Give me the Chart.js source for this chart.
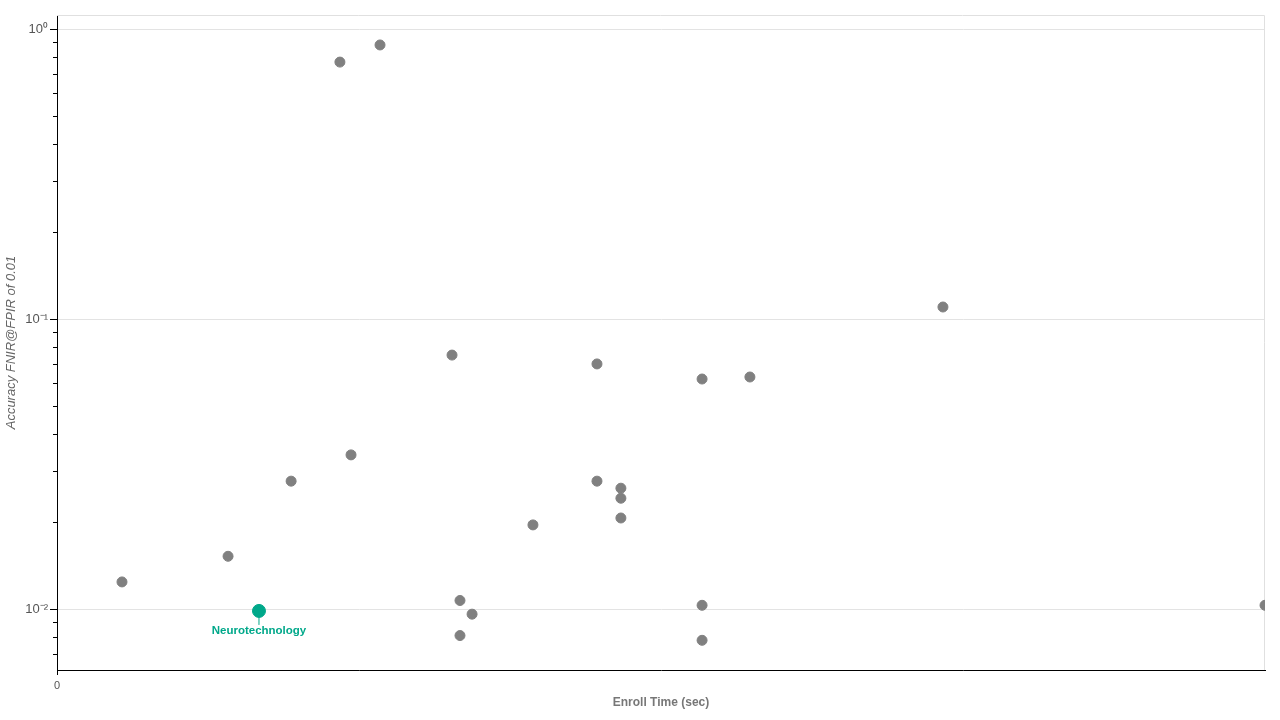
<!DOCTYPE html>
<html>
<head>
<meta charset="utf-8">
<script src="https://cdn.jsdelivr.net/npm/chart.js@4"></script>
<style>
  html, body { margin: 0; padding: 0; background: #fff; }
  #wrap { width: 1280px; height: 720px; }
</style>
</head>
<body>
<div id="wrap"><canvas id="myChart" width="1280" height="720"></canvas></div>
<script>
// enroll time (sec, relative) and FNIR for every other vendor
var enrollTime = [0.269, 0.708, 0.969, 1.171, 1.337, 1.217, 1.635, 1.668, 1.718, 1.668, 1.970,
                  2.235, 2.235, 2.334, 2.334, 2.334, 2.670, 2.670, 2.670, 2.868, 3.667, 5.0];
var fnir = [0.0124, 0.0152, 0.0276, 0.769, 0.881, 0.0340, 0.0751, 0.0107, 0.0096, 0.0081, 0.0195,
            0.0700, 0.0276, 0.0261, 0.0241, 0.0206, 0.0621, 0.0103, 0.0078, 0.0631, 0.110, 0.0103];

// highlighted vendor
var highlightName = 'Neurotechnology';
var highlightTime = [0.836];
var highlightFnir = [0.00985];

var xTicks = [0];
var yDecades = [1, 0.1, 0.01];
var yDecadeLabels = ['10\u2070', '10\u207B\u00B9', '10\u207B\u00B2'];

var grey = '#808080';
var green = '#00a88a';

Chart.defaults.font.family = "'Liberation Sans', Arial, sans-serif";
Chart.defaults.color = '#666';

function isDecade(v) {
    for (var i = 0; i < yDecades.length; i++) {
        if (Math.abs(v - yDecades[i]) < yDecades[i] * 1e-6) return i;
    }
    return -1;
}

// tick marks, top/right frame and the callout label
var extras = {
    id: 'extras',
    beforeDatasetsDraw: function (chart) {
        var c = chart.ctx, a = chart.chartArea;
        c.save();
        c.strokeStyle = '#e0e0e0';
        c.lineWidth = 1;
        c.beginPath();
        c.moveTo(a.left, a.top + 0.5);
        c.lineTo(a.right - 0.5, a.top + 0.5);
        c.lineTo(a.right - 0.5, a.bottom);
        c.stroke();

        c.strokeStyle = '#000';
        var ys = chart.scales.y;
        ys.ticks.forEach(function (t) {
            var py = Math.round(ys.getPixelForValue(t.value)) + 0.5;
            var len = isDecade(t.value) >= 0 ? 7 : 4;
            c.beginPath();
            c.moveTo(a.left - len, py);
            c.lineTo(a.left, py);
            c.stroke();
        });
        var xs = chart.scales.x;
        xs.ticks.forEach(function (t) {
            var px = Math.round(xs.getPixelForValue(t.value)) + 0.5;
            c.beginPath();
            c.moveTo(px, a.bottom);
            c.lineTo(px, a.bottom + 5);
            c.stroke();
        });
        c.restore();
    },
    afterDatasetsDraw: function (chart) {
        var c = chart.ctx;
        var pt = chart.getDatasetMeta(1).data[0];
        if (!pt) return;
        c.save();
        c.strokeStyle = green;
        c.lineWidth = 1;
        c.beginPath();
        c.moveTo(pt.x, pt.y + 6);
        c.lineTo(pt.x, pt.y + 14);
        c.stroke();
        c.fillStyle = green;
        c.font = "bold 11.5px 'Liberation Sans', Arial, sans-serif";
        c.textAlign = 'center';
        c.textBaseline = 'middle';
        c.fillText(highlightName, pt.x, pt.y + 20);
        c.restore();
    }
};

var ctx = document.getElementById('myChart').getContext('2d');
var myChart = new Chart(ctx, {
    type: 'scatter',
    data: {
        datasets: [{
            label: 'Vendors',
            data: enrollTime.map(function (t, i) { return { x: t, y: fnir[i] }; }),
            backgroundColor: grey,
            borderColor: grey,
            pointRadius: 5,
            pointHoverRadius: 5,
            clip: 0
        }, {
            label: highlightName,
            data: highlightTime.map(function (t, i) { return { x: t, y: highlightFnir[i] }; }),
            backgroundColor: green,
            borderColor: green,
            pointRadius: 6.5,
            pointHoverRadius: 6.5,
            clip: 0
        }]
    },
    options: {
        responsive: false,
        animation: false,
        layout: { padding: { top: 15, right: 15, left: 0, bottom: 0 } },
        plugins: {
            legend: { display: false },
            tooltip: { enabled: false }
        },
        scales: {
            x: {
                type: 'linear',
                min: 0,
                max: 5,
                afterBuildTicks: function (s) { s.ticks = xTicks.map(function (v) { return { value: v }; }); },
                afterFit: function (s) { s.height = 50; s.paddingLeft = 0; s.paddingRight = 0; },
                grid: { display: false, drawTicks: false },
                border: { display: true, color: '#000', width: 1 },
                ticks: { padding: 9, color: '#555', font: { size: 11 }, maxRotation: 0 },
                title: {
                    display: true,
                    text: 'Enroll Time (sec)',
                    color: '#777',
                    font: { size: 12, weight: 'bold' },
                    padding: { top: 0, bottom: 10 }
                }
            },
            y: {
                type: 'logarithmic',
                min: 0.006162,
                max: 1.1176,
                afterBuildTicks: function (s) {
                    var t = [];
                    for (var e = -3; e <= 0; e++) {
                        for (var m = 1; m <= 9; m++) {
                            var v = m * Math.pow(10, e);
                            if (v >= s.min && v <= s.max) t.push({ value: v });
                        }
                    }
                    s.ticks = t;
                },
                afterFit: function (s) { s.width = 57; s.paddingTop = 0; s.paddingBottom = 0; },
                grid: {
                    drawTicks: false,
                    color: function (c) { return c.tick && isDecade(c.tick.value) >= 0 ? '#e3e3e3' : 'rgba(0,0,0,0)'; }
                },
                border: { display: true, color: '#000', width: 1 },
                ticks: {
                    padding: 9,
                    color: '#555',
                    font: { size: 13 },
                    autoSkip: false,
                    callback: function (v) {
                        var i = isDecade(v);
                        return i >= 0 ? yDecadeLabels[i] : '';
                    }
                },
                title: {
                    display: true,
                    text: 'Accuracy FNIR@FPIR of 0.01',
                    color: '#666',
                    font: { size: 13, style: 'italic' },
                    padding: { top: 4, bottom: 0 }
                }
            }
        }
    },
    plugins: [extras]
});
</script>
</body>
</html>
